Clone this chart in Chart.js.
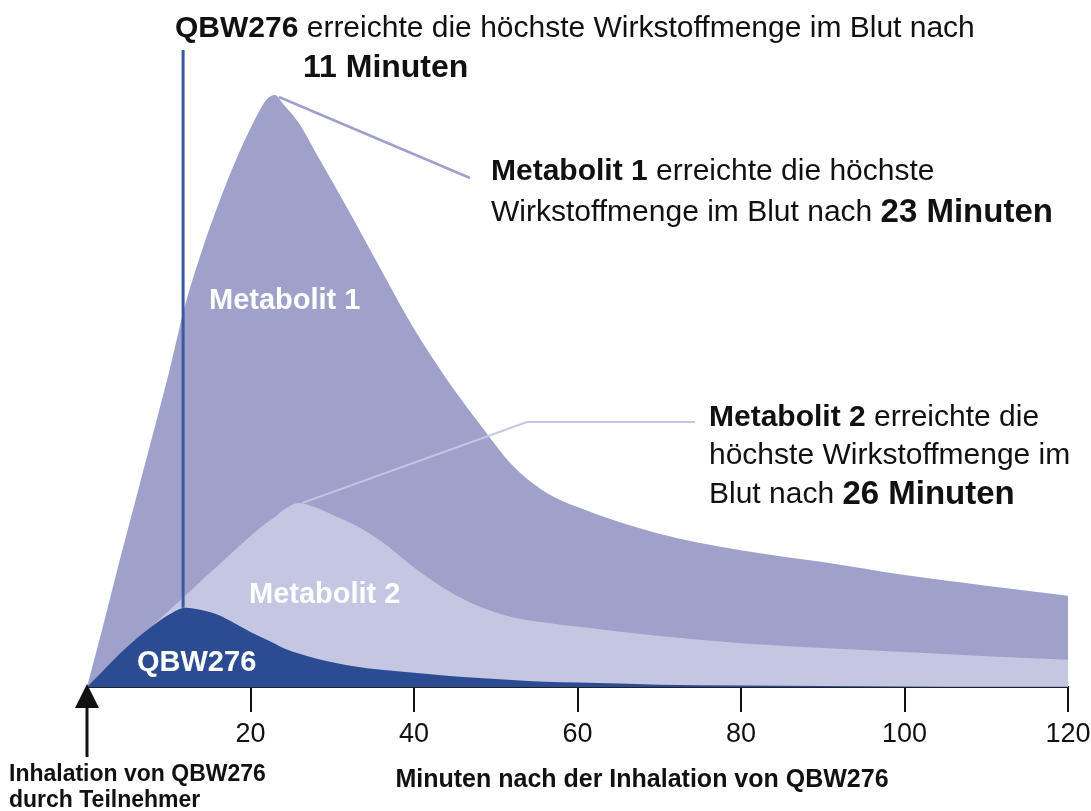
<!DOCTYPE html>
<html>
<head>
<meta charset="utf-8">
<script src="https://cdn.jsdelivr.net/npm/chart.js@4"></script>
<style>
  body { margin: 0; background: #fff; }
  canvas { display: block; }
</style>
</head>
<body>
<canvas id="chart" width="1091" height="811"></canvas>
<script>
// minutes after inhalation
const minutes = [0, 2, 4, 6, 8, 10, 12, 14, 16, 18, 20, 22, 23, 24, 26, 28, 30, 33, 36, 40, 44, 48, 52, 56, 60, 70, 80, 90, 100, 110, 120];
const metabolit1 = [0, 10.5, 21.4, 31.9, 42.4, 53, 64.5, 73.5, 81.3, 88.3, 94.4, 99.3, 100, 98.5, 95.1, 90.2, 85.4, 78, 70.4, 60.5, 52, 44.5, 37.5, 33, 30.4, 25.9, 23.1, 21.1, 18.9, 17.1, 15.4];
const metabolit2 = [0, 2.5, 5.1, 7.6, 10.3, 12.9, 15.4, 18, 20.5, 23, 25.5, 27.8, 28.7, 29.9, 31.1, 30.3, 29.1, 27.2, 24.6, 20.2, 16.4, 13.6, 11.8, 10.9, 10.2, 8.6, 7.4, 6.6, 5.9, 5.2, 4.6];
const qbw276 = [0, 2.8, 5.6, 8.1, 10.3, 12.2, 13.4, 13, 12.2, 10.8, 9.3, 8, 7.3, 6.6, 5.6, 4.8, 4.2, 3.4, 2.9, 2.4, 1.9, 1.5, 1.2, 0.9, 0.75, 0.4, 0.25, 0.15, 0.1, 0.05, 0.03];
const xTicks = [20, 40, 60, 80, 100, 120];

const FONT = '"Liberation Sans", Arial, sans-serif';
const C_M1 = '#a0a1ca';
const C_M2 = '#c5c6e2';
const C_QBW = '#2b4c93';

function pts(vals) {
  return minutes.map((m, i) => ({ x: m, y: vals[i] }));
}
function peakIndex(vals) {
  let k = 0;
  vals.forEach((v, i) => { if (v > vals[k]) k = i; });
  return k;
}

// draw a line made of runs: [text, bold, size]
function runs(ctx, x, y, parts, color) {
  ctx.fillStyle = color || '#111';
  ctx.textBaseline = 'middle';
  ctx.textAlign = 'left';
  parts.forEach(p => {
    ctx.font = (p[1] ? 'bold ' : '') + p[2] + 'px ' + FONT;
    ctx.fillText(p[0], x, y);
    x += ctx.measureText(p[0]).width;
  });
}

const annot = {
  id: 'annot',
  afterDatasetsDraw(chart) {
    const ctx = chart.ctx;
    const xs = chart.scales.x, ys = chart.scales.y;
    const at = (vals) => {
      const i = peakIndex(vals);
      return [xs.getPixelForValue(minutes[i]), ys.getPixelForValue(vals[i])];
    };
    const pQ = at(qbw276), p1 = at(metabolit1), p2 = at(metabolit2);

    ctx.save();
    ctx.lineCap = 'butt';
    // QBW276 peak marker
    ctx.strokeStyle = '#3a5aa2';
    ctx.lineWidth = 3;
    ctx.beginPath();
    ctx.moveTo(pQ[0] - 2, 50);
    ctx.lineTo(pQ[0] - 2, pQ[1]);
    ctx.stroke();

    // Metabolit 1 leader
    ctx.strokeStyle = C_M1;
    ctx.lineWidth = 2.5;
    ctx.beginPath();
    ctx.moveTo(p1[0] + 4, p1[1] + 2);
    ctx.lineTo(470, 178);
    ctx.stroke();

    // Metabolit 2 leader
    ctx.strokeStyle = C_M2;
    ctx.lineWidth = 2;
    ctx.beginPath();
    ctx.moveTo(p2[0] + 3, p2[1]);
    ctx.lineTo(527, 422);
    ctx.lineTo(695, 422);
    ctx.stroke();

    // labels inside areas
    runs(ctx, 209, 301, [['Metabolit 1', true, 29]], '#fff');
    runs(ctx, 249, 595, [['Metabolit 2', true, 29]], '#fff');
    runs(ctx, 137, 663, [['QBW276', true, 29]], '#fff');
    ctx.restore();
  },
  afterDraw(chart) {
    const ctx = chart.ctx;
    const x0 = chart.scales.x.getPixelForValue(0);
    const base = chart.chartArea.bottom;
    ctx.save();
    // inhalation arrow
    ctx.fillStyle = '#111';
    ctx.beginPath();
    ctx.moveTo(x0, base - 3);
    ctx.lineTo(x0 - 12, base + 21);
    ctx.lineTo(x0 + 12, base + 21);
    ctx.closePath();
    ctx.fill();
    ctx.strokeStyle = '#111';
    ctx.lineWidth = 3;
    ctx.beginPath();
    ctx.moveTo(x0, base + 20);
    ctx.lineTo(x0, base + 70);
    ctx.stroke();

    // texts
    runs(ctx, 175, 29, [['QBW276', true, 30], [' erreichte die höchste Wirkstoffmenge im Blut nach', false, 30]]);
    runs(ctx, 303, 68, [['11 Minuten', true, 32]]);

    runs(ctx, 491, 172, [['Metabolit 1', true, 30], [' erreichte die höchste', false, 30]]);
    runs(ctx, 491, 213, [['Wirkstoffmenge im Blut nach ', false, 30], ['23 Minuten', true, 33]]);

    runs(ctx, 709, 418, [['Metabolit 2', true, 30], [' erreichte die', false, 30]]);
    runs(ctx, 709, 456, [['höchste Wirkstoffmenge im', false, 30]]);
    runs(ctx, 709, 495, [['Blut nach ', false, 30], ['26 Minuten', true, 33]]);

    runs(ctx, 9, 775, [['Inhalation von QBW276', true, 23]]);
    runs(ctx, 9, 801, [['durch Teilnehmer', true, 23]]);

    ctx.font = 'bold 25px ' + FONT;
    ctx.textAlign = 'center';
    ctx.fillStyle = '#111';
    ctx.fillText('Minuten nach der Inhalation von QBW276', 642, 780);
    ctx.restore();
  }
};

const area = (label, vals, color) => ({
  label: label,
  data: pts(vals),
  fill: 'origin',
  backgroundColor: color,
  borderWidth: 0,
  borderColor: color,
  pointRadius: 0,
  cubicInterpolationMode: 'monotone'
});

new Chart(document.getElementById('chart'), {
  type: 'line',
  data: {
    datasets: [
      area('QBW276', qbw276, C_QBW),
      area('Metabolit 2', metabolit2, C_M2),
      area('Metabolit 1', metabolit1, C_M1)
    ]
  },
  options: {
    responsive: false,
    animation: false,
    devicePixelRatio: 1,
    layout: { padding: { left: 87, right: 23, top: 95, bottom: 44 } },
    plugins: { legend: { display: false }, tooltip: { enabled: false } },
    scales: {
      x: {
        type: 'linear',
        min: 0,
        max: 120,
        afterBuildTicks: (s) => { s.ticks = [0].concat(xTicks).map(v => ({ value: v })); },
        afterFit: (s) => { s.height = 80; s.paddingLeft = 0; s.paddingRight = 0; },
        ticks: {
          color: '#111',
          font: { family: FONT, size: 27 },
          padding: 6,
          maxRotation: 0,
          callback: (v) => (v === 0 ? '' : v)
        },
        grid: {
          drawOnChartArea: false,
          drawTicks: true,
          tickLength: 25,
          lineWidth: 2,
          color: (c) => (c.tick && c.tick.value === 0 ? 'rgba(0,0,0,0)' : '#111')
        },
        border: { display: true, color: '#222', width: 2 }
      },
      y: {
        display: false,
        min: 0,
        max: 100
      }
    }
  },
  plugins: [annot]
});
</script>
</body>
</html>
